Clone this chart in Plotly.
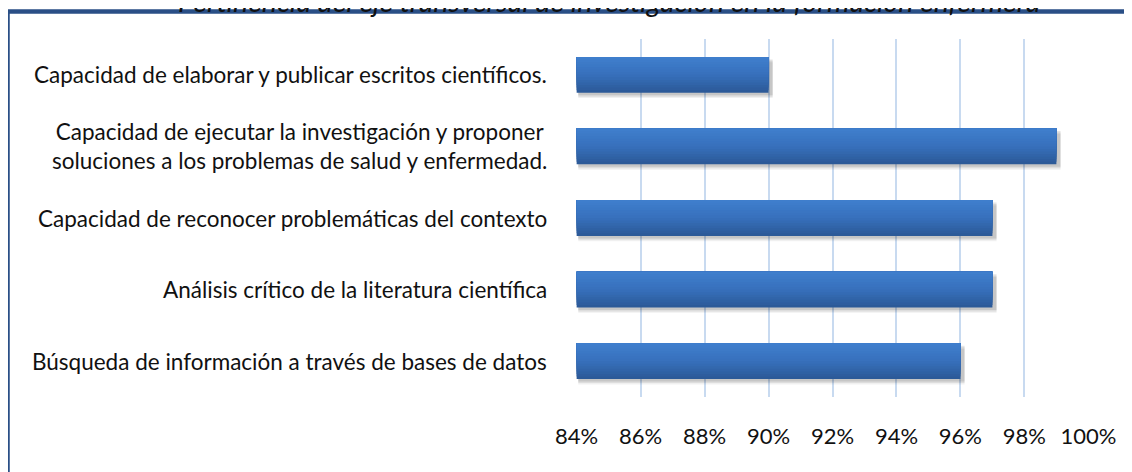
import plotly.graph_objects as go

# ---- data (top-to-bottom order as shown) ----
categories = [
    "Capacidad de elaborar y publicar escritos científicos.",
    "Capacidad de ejecutar la investigación y proponer<br>soluciones a los problemas de salud y enfermedad.",
    "Capacidad de reconocer problemáticas del contexto",
    "Análisis crítico de la literatura científica",
    "Búsqueda de información a través de bases de datos",
]
values = [90, 99, 97, 97, 96]
tick_values = [84, 86, 88, 90, 92, 94, 96, 98, 100]
title_text = "Pertinencia del eje transversal de investigación en la formación enfermera"

# plotly draws categories bottom-up
cats = categories[::-1]
vals = values[::-1]

# the page body adds an 8px margin, so the figure is sized/offset for it
OFF = 8
W, H = 1132 - OFF, 472 - OFF
L, R, T, B = 576 - OFF, 43, 39 - OFF, 75
PW, PH = W - L - R, H - T - B

FONT = "Lato"
BAR_W = 0.5
AX_MIN = 84

fig = go.Figure()

# soft shadow layers under the bars
for k, (dy, alpha) in enumerate([(0.075, 0.06), (0.055, 0.08), (0.035, 0.10)]):
    fig.add_trace(go.Bar(
        y=cats, x=[v - AX_MIN + 0.08 for v in vals], base=AX_MIN + 0.05,
        orientation="h", width=BAR_W, offset=-BAR_W / 2 - dy,
        marker=dict(color=f"rgba(0,0,0,{alpha})", line=dict(width=0)),
        hoverinfo="skip", showlegend=False,
    ))

# vertical gradient built from stacked slices (bottom dark -> top light)
def lerp(c1, c2, t):
    return tuple(round(a + (b - a) * t) for a, b in zip(c1, c2))

bottom_c = (0x2C, 0x5A, 0x98)
mid_c = (0x37, 0x70, 0xBC)
top_c = (0x3F, 0x7E, 0xCC)
N = 14
sw = BAR_W / N
for i in range(N):
    t = i / (N - 1)
    if t < 0.5:
        c = lerp(bottom_c, mid_c, t / 0.5)
    else:
        c = lerp(mid_c, top_c, (t - 0.5) / 0.5)
    fig.add_trace(go.Bar(
        y=cats, x=[v - AX_MIN for v in vals], base=AX_MIN,
        orientation="h", width=BAR_W - i * sw, offset=-BAR_W / 2 + i * sw,
        marker=dict(color="rgb(%d,%d,%d)" % c, line=dict(width=0)),
        hovertemplate="%{y}: %{x}%<extra></extra>" if i == N - 1 else None,
        hoverinfo=None if i == N - 1 else "skip",
        showlegend=False,
    ))

# category labels (centered multi-line, right-anchored)
annotations = []
for c in cats:
    annotations.append(dict(
        x=0, xref="paper", y=c, yref="y", xanchor="right", yanchor="middle",
        xshift=-27, text=c, showarrow=False, align="center",
        font=dict(family=FONT, size=22.5, color="#111111"),
    ))

# title (partially outside the top edge like the reference)
annotations.append(dict(
    x=(609 - OFF - L) / PW, xref="paper", y=(H - B - (20 - OFF)) / PH, yref="paper",
    xanchor="center", yanchor="bottom", text=f"<i>{title_text}</i>",
    showarrow=False, font=dict(family=FONT, size=28.5, color="#111111"),
))

fig.update_layout(
    width=W, height=H,
    margin=dict(l=L, r=R, t=T, b=B, autoexpand=False),
    paper_bgcolor="white", plot_bgcolor="white",
    barmode="overlay", bargap=0.5,
    annotations=annotations,
    shapes=[dict(
        type="rect", xref="paper", yref="paper",
        x0=(7.5 - OFF - L) / PW, x1=(1145 - L) / PW,
        y0=(H - B - 490) / PH, y1=(H - B - (11.5 - OFF)) / PH,
        line=dict(color="#2A4F86", width=4.5), fillcolor="rgba(0,0,0,0)",
        layer="above",
    )],
    xaxis=dict(
        range=[AX_MIN - 0.02, 100.02], tickvals=tick_values,
        ticktext=[f"{v}%" for v in tick_values],
        showgrid=True, gridcolor="#C8DAF0", gridwidth=1.6,
        zeroline=False, showline=False,
        ticks="outside", ticklen=0, ticklabelstandoff=20,
        tickfont=dict(family=FONT, size=22, color="#111111"),
        fixedrange=True,
    ),
    yaxis=dict(
        categoryorder="array", categoryarray=cats,
        showticklabels=False, showgrid=False, zeroline=False, showline=False,
        range=[-0.5, len(cats) - 0.5], fixedrange=True,
    ),
    font=dict(family=FONT),
)

fig.write_html("out.html")
